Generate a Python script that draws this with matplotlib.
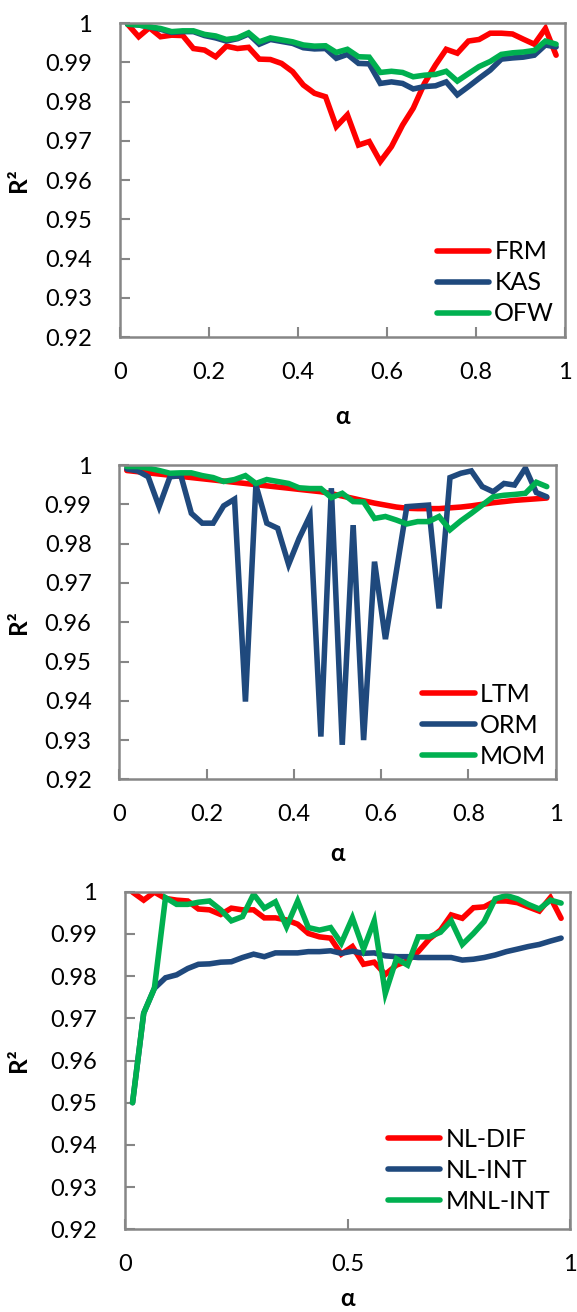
import matplotlib
matplotlib.use("Agg")
import matplotlib.pyplot as plt

plt.rcParams["font.family"] = ["Lato", "DejaVu Sans"]

# alpha values (shared by all three panels)
alpha = [0.017, 0.042, 0.066, 0.091, 0.116, 0.141, 0.165, 0.190, 0.215, 0.239,
         0.264, 0.289, 0.313, 0.338, 0.363, 0.388, 0.412, 0.437, 0.462, 0.486,
         0.511, 0.536, 0.560, 0.585, 0.610, 0.635, 0.659, 0.684, 0.709, 0.733,
         0.758, 0.783, 0.807, 0.832, 0.857, 0.882, 0.906, 0.931, 0.956, 0.980]

# ---- panel 1 ----
frm = [0.9997, 0.9965, 0.9988, 0.9965, 0.9969, 0.9968, 0.9935, 0.9931, 0.9914, 0.9941,
       0.9935, 0.9938, 0.9908, 0.9907, 0.9897, 0.9876, 0.9842, 0.9821, 0.9812, 0.9736,
       0.9766, 0.9689, 0.9698, 0.9647, 0.9685, 0.9740, 0.9783, 0.9846, 0.9893, 0.9933,
       0.9923, 0.9954, 0.9958, 0.9974, 0.9974, 0.9972, 0.9959, 0.9946, 0.9986, 0.9918]
kas = [0.9997, 0.9995, 0.9990, 0.9984, 0.9976, 0.9978, 0.9978, 0.9968, 0.9962, 0.9954,
       0.9960, 0.9972, 0.9946, 0.9958, 0.9953, 0.9948, 0.9937, 0.9934, 0.9935, 0.9910,
       0.9920, 0.9897, 0.9896, 0.9846, 0.9850, 0.9846, 0.9832, 0.9838, 0.9840, 0.9850,
       0.9817, 0.9838, 0.9859, 0.9880, 0.9908, 0.9911, 0.9913, 0.9918, 0.9944, 0.9939]
ofw = [0.9997, 0.9995, 0.9990, 0.9986, 0.9978, 0.9980, 0.9980, 0.9971, 0.9967, 0.9958,
       0.9962, 0.9975, 0.9952, 0.9962, 0.9957, 0.9952, 0.9944, 0.9941, 0.9942, 0.9925,
       0.9933, 0.9914, 0.9913, 0.9874, 0.9877, 0.9874, 0.9863, 0.9867, 0.9869, 0.9877,
       0.9852, 0.9871, 0.9889, 0.9902, 0.9920, 0.9924, 0.9926, 0.9930, 0.9954, 0.9946]

# ---- panel 2 ----
ltm = [0.9986, 0.9983, 0.9980, 0.9977, 0.9974, 0.9971, 0.9968, 0.9965, 0.9962, 0.9959,
       0.9956, 0.9953, 0.9950, 0.9947, 0.9944, 0.9941, 0.9938, 0.9935, 0.9932, 0.9927,
       0.9921, 0.9915, 0.9909, 0.9903, 0.9898, 0.9893, 0.9890, 0.9889, 0.9889, 0.9889,
       0.9891, 0.9893, 0.9896, 0.9900, 0.9904, 0.9907, 0.9910, 0.9912, 0.9914, 0.9916]
orm = [0.9990, 0.9985, 0.9970, 0.9894, 0.9970, 0.9973, 0.9877, 0.9852, 0.9852, 0.9896,
       0.9913, 0.9398, 0.9949, 0.9852, 0.9839, 0.9747, 0.9813, 0.9871, 0.9309, 0.9941,
       0.9288, 0.9847, 0.9300, 0.9754, 0.9557, 0.9729, 0.9894, 0.9896, 0.9898, 0.9635,
       0.9968, 0.9979, 0.9985, 0.9945, 0.9932, 0.9953, 0.9949, 0.9992, 0.9930, 0.9919]
mom = [0.9996, 0.9996, 0.9992, 0.9986, 0.9979, 0.9980, 0.9980, 0.9973, 0.9968, 0.9958,
       0.9963, 0.9973, 0.9953, 0.9963, 0.9958, 0.9953, 0.9942, 0.9940, 0.9940, 0.9917,
       0.9928, 0.9907, 0.9906, 0.9864, 0.9869, 0.9860, 0.9850, 0.9856, 0.9856, 0.9869,
       0.9835, 0.9858, 0.9877, 0.9898, 0.9919, 0.9923, 0.9925, 0.9928, 0.9956, 0.9945]

# ---- panel 3 ----
nl_dif = [0.9999, 0.9980, 0.9999, 0.9984, 0.9980, 0.9978, 0.9959, 0.9957, 0.9946, 0.9961,
          0.9957, 0.9957, 0.9938, 0.9938, 0.9933, 0.9923, 0.9901, 0.9893, 0.9890, 0.9852,
          0.9870, 0.9828, 0.9833, 0.9804, 0.9826, 0.9836, 0.9858, 0.9888, 0.9909, 0.9945,
          0.9937, 0.9962, 0.9964, 0.9978, 0.9978, 0.9974, 0.9964, 0.9954, 0.9986, 0.9937]
nl_int = [0.9500, 0.9712, 0.9771, 0.9796, 0.9803, 0.9818, 0.9828, 0.9829, 0.9833, 0.9834,
          0.9844, 0.9852, 0.9846, 0.9855, 0.9855, 0.9855, 0.9858, 0.9858, 0.9860, 0.9854,
          0.9859, 0.9854, 0.9855, 0.9848, 0.9846, 0.9846, 0.9844, 0.9844, 0.9844, 0.9844,
          0.9838, 0.9840, 0.9844, 0.9850, 0.9858, 0.9864, 0.9870, 0.9875, 0.9883, 0.9890]
mnl_int = [0.9500, 0.9712, 0.9771, 0.9986, 0.9970, 0.9970, 0.9975, 0.9978, 0.9957, 0.9931,
           0.9941, 0.9994, 0.9961, 0.9976, 0.9917, 0.9978, 0.9915, 0.9909, 0.9915, 0.9878,
           0.9938, 0.9864, 0.9931, 0.9759, 0.9841, 0.9826, 0.9893, 0.9893, 0.9904, 0.9931,
           0.9875, 0.9901, 0.9929, 0.9983, 0.9991, 0.9983, 0.9970, 0.9959, 0.9980, 0.9973]

panels = [
    (["FRM", "KAS", "OFW"], [frm, kas, ofw], [0, 0.2, 0.4, 0.6, 0.8, 1]),
    (["LTM", "ORM", "MOM"], [ltm, orm, mom], [0, 0.2, 0.4, 0.6, 0.8, 1]),
    (["NL-DIF", "NL-INT", "MNL-INT"], [nl_dif, nl_int, mnl_int], [0, 0.5, 1]),
]
yticks = [0.92, 0.93, 0.94, 0.95, 0.96, 0.97, 0.98, 0.99, 1.0]
colors = ["#FF0000", "#1F497D", "#00B050"]

W, H = 577, 1312
# axes boxes in pixels: left, right, top, bottom
boxes = [(120, 565, 23, 337), (119.4, 555.5, 465, 779.4), (125, 570, 891.7, 1229.3)]
xlab_y = [-0.215, -0.2, -0.17]
leg_anchor = [(0.712, 0.172), (0.694, 0.172), (0.591, 0.175)]

fig = plt.figure(figsize=(W / 100, H / 100), dpi=100)
grey = "#868686"
for k, (names, series, xticks) in enumerate(panels):
    l, r, t, b = boxes[k]
    ax = fig.add_axes([l / W, 1 - b / H, (r - l) / W, (b - t) / H])
    for name, vals, c in zip(names, series, colors):
        ax.plot(alpha, vals, color=c, lw=4.0, label=name,
                solid_joinstyle="miter", solid_capstyle="round")
    ax.set_xlim(0, 1)
    ax.set_ylim(0.92, 1.0)
    ax.set_xticks(xticks)
    ax.set_xticklabels([f"{v:g}" for v in xticks])
    ax.set_yticks(yticks)
    ax.set_yticklabels([f"{v:g}" for v in yticks])
    ax.tick_params(direction="in", length=7, width=1.5, color=grey,
                   labelsize=17, pad=18)
    ax.tick_params(axis="y", pad=20)
    for s in ax.spines.values():
        s.set_color(grey)
        s.set_linewidth(1.8)
    ax.set_ylabel("R²", fontsize=17.5, fontweight="bold")
    ax.yaxis.set_label_coords((30 - l) / (r - l), 0.5)
    ax.set_xlabel("α", fontsize=17.5, fontweight="bold")
    ax.xaxis.set_label_coords(0.5, xlab_y[k])
    ax.legend(loc="center left", bbox_to_anchor=leg_anchor[k], frameon=False,
              fontsize=18, borderpad=0, handlelength=2.1, handletextpad=0.2,
              labelspacing=0.32, borderaxespad=0)

fig.savefig("out.png", dpi=100)
